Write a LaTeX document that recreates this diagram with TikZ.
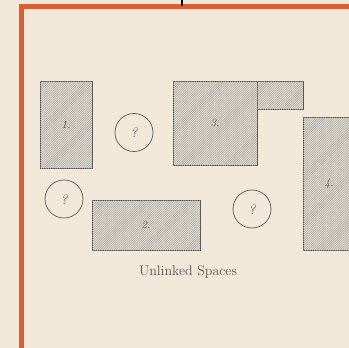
\documentclass[tikz,border=0pt]{standalone}
\usepackage{tikz}
\usetikzlibrary{patterns.meta}
\definecolor{paper-beige}{HTML}{F1E8DA}
\definecolor{frame-orange}{HTML}{D65F35}
\definecolor{ink-gray}{HTML}{555555}
\definecolor{hatch-fill}{HTML}{DED7CB}

\begin{document}
\begin{tikzpicture}[
    x=1pt, y=-1pt,
    space/.style={rectangle, draw=ink-gray, line width=1pt, fill=hatch-fill,
        postaction={pattern={Lines[distance=1.6pt, angle=45, line width=0.4pt]}, pattern color=gray!70},
        inner sep=0pt, font=\fontsize{11}{13}\selectfont\itshape, text=ink-gray!80!black},
    unknown/.style={circle, draw=ink-gray, line width=0.7pt, minimum size=38pt, inner sep=0pt,
        font=\fontsize{14}{16}\selectfont\itshape, text=ink-gray},
    caption/.style={font=\fontsize{14}{17}\selectfont, text=ink-gray}
]
    \useasboundingbox (0,0) rectangle (349,348);
    \clip (0,0) rectangle (349,348);
    \fill[paper-beige] (0,0) rectangle (349,348);

    % outer frame and link stub
    \draw[frame-orange, line width=5pt] (21.5,400) -- (21.5,6.5) -- (400,6.5);
    \coordinate (stub-top) at (182,-2);
    \coordinate (stub-end) at (182,6);
    \draw[black, line width=2pt] (stub-top) -- (stub-end);

    % spaces
    \node[space, minimum width=52pt, minimum height=87pt] (s1) at (66,124.5) {1.};
    \node[space, minimum width=84pt, minimum height=84pt] (s3) at (215,123) {3.};
    \node[space, minimum width=46pt, minimum height=28pt] (s3b) at (280,95) {};
    \node[space, minimum width=52pt, minimum height=133pt] (s4) at (329,183.5) {4.};
    \node[space, minimum width=108pt, minimum height=50pt] (s2) at (146,225) {2.};

    % unknown spaces
    \node[unknown] (q1) at (134,132.5) {?};
    \node[unknown] (q2) at (64,199) {?};
    \node[unknown] (q3) at (252,209) {?};

    \node[caption] (title) at (188,272) {Unlinked Spaces};
\end{tikzpicture}
\end{document}
